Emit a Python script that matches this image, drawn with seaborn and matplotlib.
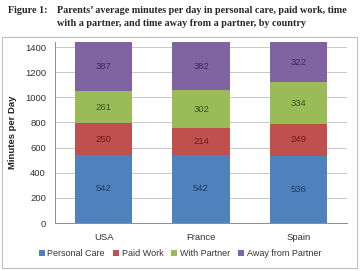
import matplotlib
matplotlib.use('Agg')
import matplotlib.pyplot as plt
from matplotlib.patches import Rectangle
import seaborn as sns
import pandas as pd

# 데이터
countries = ['USA', 'France', 'Spain']
personal_care = [542, 542, 536]
paid_work = [250, 214, 249]
with_partner = [261, 302, 334]
away_partner = [387, 382, 322]

series = ['Personal Care', 'Paid Work', 'With Partner', 'Away from Partner']
values = [personal_care, paid_work, with_partner, away_partner]
colors = ['#4F81BD', '#C0504D', '#9BBB59', '#8064A2']
text_colors = ['#1F3A66', '#6E1A18', '#3E5220', '#3B2A5A']

sns.set_style('white')
plt.rcParams['font.family'] = ['Liberation Sans', 'DejaVu Sans']

fig = plt.figure(figsize=(3.6, 2.71), dpi=100)
ax = fig.add_axes([0.153, 0.177, 0.811, 0.668])

# 차트 테두리
fig.patches.append(Rectangle((0.006, 0.012), 0.985, 0.852, transform=fig.transFigure,
                             fill=False, edgecolor='#BFBFBF', lw=0.8))

bottom = [0, 0, 0]
for name, vals, c, tc in zip(series, values, colors, text_colors):
    df = pd.DataFrame({'country': countries, 'minutes': vals})
    sns.barplot(data=df, x='country', y='minutes', color=c, bottom=bottom,
                width=0.59, ax=ax, label=name, saturation=1, zorder=3, linewidth=0)
    for i, v in enumerate(vals):
        ax.text(i, bottom[i] + v / 2, str(v), ha='center', va='center',
                fontsize=6.8, color=tc, zorder=4)
    bottom = [b + v for b, v in zip(bottom, vals)]

if ax.get_legend() is not None:
    ax.get_legend().remove()

ax.set_ylim(0, 1440)
ax.set_xlim(-0.5, 2.5)
ax.set_yticks(range(0, 1401, 200))
ax.grid(axis='y', color='#C8C8C8', lw=0.7, zorder=0)
ax.grid(axis='x', visible=False)
for s in ['top', 'right']:
    ax.spines[s].set_visible(False)
for s in ['left', 'bottom']:
    ax.spines[s].set_color('#8C8C8C')
    ax.spines[s].set_linewidth(0.7)

ax.set_xticks([0.5, 1.5], minor=True)
ax.tick_params(axis='x', which='major', length=0, labelsize=6.8, pad=7, colors='#333333')
ax.tick_params(axis='x', which='minor', length=3, color='#8C8C8C', width=0.7)
ax.tick_params(axis='y', length=3, color='#8C8C8C', width=0.7, labelsize=6.8, colors='#333333')
ax.set_xlabel('')
ax.set_ylabel('Minutes per Day', fontsize=6.8, fontweight='bold', color='#222222', labelpad=6)

handles, labels = ax.get_legend_handles_labels()
fig.legend(handles, labels, loc='center', bbox_to_anchor=(0.5, 0.065), ncol=4, frameon=False,
           fontsize=6.5, handlelength=0.65, handleheight=0.65, handletextpad=0.3,
           columnspacing=0.9, labelcolor='#333333')

title_kw = dict(fontsize=7.3, fontweight='bold', family='Liberation Serif', va='center')
fig.text(0.022, 0.963, 'Figure 1:', **title_kw)
fig.text(0.158, 0.963, 'Parents\u2019 average minutes per day in personal care, paid work, time',
         **title_kw)
fig.text(0.158, 0.913, 'with a partner, and time away from a partner, by country', **title_kw)

fig.savefig('out.png', dpi=100)
